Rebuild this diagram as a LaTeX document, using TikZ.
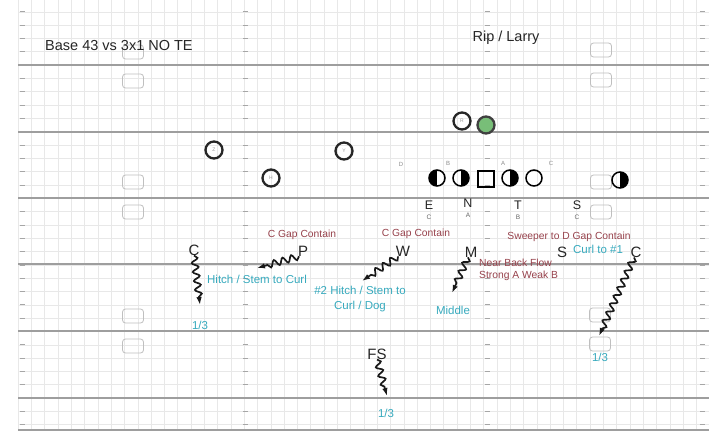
\documentclass[tikz,border=0pt]{standalone}
\usepackage{fontspec}
\setmainfont{Liberation Sans}
\usetikzlibrary{decorations.pathmorphing,arrows.meta}
\definecolor{maroonc}{RGB}{150,65,75}
\definecolor{tealc}{RGB}{55,170,190}
\definecolor{qbgreen}{RGB}{120,190,120}
\tikzset{
  gridln/.style={draw=black!9, line width=0.4pt},
  yardln/.style={draw=black!38, line width=2.4pt},
  hashmk/.style={draw=black!35, line width=0.6pt},
  numbox/.style={draw=black!25, rounded corners=3pt, minimum width=21pt, minimum height=14pt, inner sep=0pt, line width=0.8pt},
  recv/.style={circle, draw=black!85, line width=2.3pt, minimum size=17pt, inner sep=0pt, font=\fontsize{5}{5}\selectfont, text=black!40},
  olin/.style={circle, draw=black, line width=1.5pt, minimum size=16pt, inner sep=0pt},
  ocenter/.style={rectangle, draw=black, line width=1.5pt, minimum size=16pt, inner sep=0pt},
  lefthalf/.style={path picture={\fill[black] (path picture bounding box.south west) rectangle (path picture bounding box.north);}},
  righthalf/.style={path picture={\fill[black] (path picture bounding box.south) rectangle (path picture bounding box.north east);}},
  gapmk/.style={font=\fontsize{6}{6}\selectfont, text=black!45, inner sep=0pt},
  frontlb/.style={font=\fontsize{12.5}{12.5}\selectfont, text=black!85, inner sep=0pt},
  frontsub/.style={font=\fontsize{6.5}{6.5}\selectfont, text=black!60, inner sep=0pt},
  deflb/.style={font=\fontsize{15}{15}\selectfont, text=black!85, inner sep=0pt},
  notem/.style={font=\fontsize{10.3}{12.5}\selectfont, text=maroonc, inner sep=0pt, align=left},
  notet/.style={font=\fontsize{11.5}{15}\selectfont, text=tealc, inner sep=0pt, align=center},
  titlet/.style={font=\fontsize{14.5}{14.5}\selectfont, text=black!85, inner sep=0pt},
  wavy/.style={decorate, decoration={snake, amplitude=3.2pt, segment length=9pt, post length=7pt}, line width=1.7pt, draw=black!90, -{Latex[length=8pt,width=5.5pt]}}
}
\begin{document}
\begin{tikzpicture}[x=1pt,y=-1pt]
\useasboundingbox (0,0) rectangle (709,433);
\fill[white] (0,0) rectangle (709,433);
% fine grid
\foreach \gx in {18,31.3,...,709} \draw[gridln] (\gx,0) -- (\gx,430);
\foreach \gi in {1,...,32} \draw[gridln] (18,{-1.6+\gi*13.32}) -- (709,{-1.6+\gi*13.32});
% hash marks
\foreach \hx in {22,245,487,702} {
  \foreach \gi in {1,...,32} \draw[hashmk] (\hx-2.5,{-1.6+\gi*13.32}) -- (\hx+2.5,{-1.6+\gi*13.32});
}
% yard lines
\foreach \yy in {65,132,198,264,331,398,430} \draw[yardln] (18,\yy) -- (709,\yy);
% number boxes
\node[numbox] (bl1) at (133,52) {};
\node[numbox] (bl2) at (133,81) {};
\node[numbox] (bl3) at (133,182) {};
\node[numbox] (bl4) at (133,212) {};
\node[numbox] (bl5) at (133,316) {};
\node[numbox] (bl6) at (133,346) {};
\node[numbox] (br1) at (601,50) {};
\node[numbox] (br2) at (601,80) {};
\node[numbox] (br3) at (601,182) {};
\node[numbox] (br4) at (601,212) {};
\node[numbox] (br5) at (600,315) {};
\node[numbox] (br6) at (600,344) {};
% titles
\node[titlet, anchor=west] (title) at (45,46) {Base 43 vs 3x1 NO TE};
\node[titlet] (play) at (506,38) {Rip / Larry};
% offense
\node[recv] (rz) at (214,150) {Z};
\node[recv] (ry) at (344,151) {Y};
\node[recv] (rh) at (271,178) {H};
\node[recv] (rb) at (462,121) {R};
\node[recv, fill=qbgreen, draw=black!75] (qb) at (486,125) {};
\node[olin, lefthalf] (lt) at (437,178) {};
\node[olin, righthalf] (lg) at (461,178) {};
\node[ocenter] (oc) at (486,179) {};
\node[olin, righthalf] (rg) at (510,178) {};
\node[olin] (rt) at (534,178) {};
\node[olin, righthalf] (te) at (620,180) {};
% gaps
\node[gapmk] (gd) at (401,164) {D};
\node[gapmk] (gb) at (448,163) {B};
\node[gapmk] (ga) at (503,163) {A};
\node[gapmk] (gc) at (551,163) {C};
% defensive front
\node[frontlb] (de) at (429,205) {E};
\node[frontsub] (dec) at (429,217) {C};
\node[frontlb] (dn) at (468,203) {N};
\node[frontsub] (dna) at (468,215) {A};
\node[frontlb] (dt) at (518,205) {T};
\node[frontsub] (dtb) at (518,217) {B};
\node[frontlb] (ds) at (577,205) {S};
\node[frontsub] (dsc) at (577,217) {C};
% notes
\node[notem] (n1) at (302,235) {C Gap Contain};
\node[notem] (n2) at (416,234) {C Gap Contain};
\node[notem] (n3) at (569,237) {Sweeper to D Gap Contain};
\node[notem, anchor=west] (n4) at (479,270) {Near Back Flow\\Strong A Weak B};
\node[notet] (n5) at (598,249) {Curl to \#1};
\node[notet] (n6) at (257,279) {Hitch / Stem to Curl};
\node[notet] (n7) at (360,299) {\#2 Hitch / Stem to\\Curl / Dog};
\node[notet] (n8) at (453,310) {Middle};
\node[notet] (n9) at (200,325) {1/3};
\node[notet] (n10) at (600,357) {1/3};
\node[notet] (n11) at (386,413) {1/3};
% defenders
\node[deflb] (dcl) at (194,250) {C};
\node[deflb] (dp) at (303,251) {P};
\node[deflb] (dw) at (403,251) {W};
\node[deflb] (dm) at (471,252) {M};
\node[deflb] (dss) at (562,252) {S};
\node[deflb] (dcr) at (636,252) {C};
\node[deflb] (dfs) at (377,354) {FS};
% ends
\coordinate (ecl) at (200,305);
\coordinate (ep) at (257,268);
\coordinate (ew) at (362,281);
\coordinate (em) at (452,293);
\coordinate (ecr) at (599,336);
\coordinate (efs) at (387,396);
% reads
\draw[wavy] (dcl.south) -- (ecl);
\draw[wavy] ([xshift=-4pt]dp.south) -- (ep);
\draw[wavy] ([xshift=-5pt]dw.south) -- (ew);
\draw[wavy] ([xshift=-3pt]dm.south) -- (em);
\draw[wavy] ([xshift=-2pt]dcr.south) -- (ecr);
\draw[wavy] (dfs.south) -- (efs);
\end{tikzpicture}
\end{document}
